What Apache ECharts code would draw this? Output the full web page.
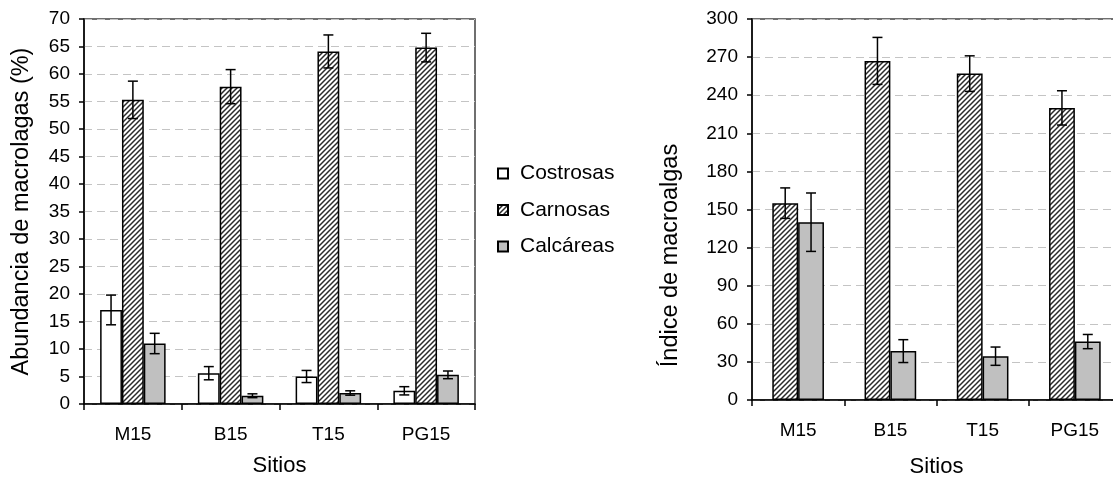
<!DOCTYPE html>
<html>
<head>
<meta charset="utf-8">
<script src="https://cdn.jsdelivr.net/npm/echarts@6/dist/echarts.min.js"></script>
<style>
  html, body { margin: 0; padding: 0; background: #fff; }
  #main { width: 1113px; height: 478px; }
</style>
</head>
<body>
<div id="main"></div>
<script>
// sites
const sitios = ['M15', 'B15', 'T15', 'PG15'];

// left chart: abundancia (%)
const costrosasPct = [17.1, 5.6, 5.0, 2.4];
const costrosasPctErr = [2.7, 1.2, 1.1, 0.75];
const carnosasPct = [55.3, 57.7, 64.1, 64.8];
const carnosasPctErr = [3.4, 3.1, 3.0, 2.6];
const calcareasPct = [11.0, 1.5, 2.0, 5.3];
const calcareasPctErr = [1.85, 0.35, 0.4, 0.7];

// right chart: índice de macroalgas
const carnosasIdx = [155, 267, 257, 230];
const carnosasIdxErr = [12, 18.5, 14, 13.5];
const calcareasIdx = [140, 38.5, 34.5, 46];
const calcareasIdxErr = [23, 9, 7.2, 5.6];

const FONT = 'Liberation Sans, Arial, sans-serif';

function makeHatch() {
    const c = document.createElement('canvas');
    c.width = 5;
    c.height = 5;
    const ctx = c.getContext('2d');
    ctx.fillStyle = '#fff';
    ctx.fillRect(0, 0, 5, 5);
    ctx.strokeStyle = '#2a2a2a';
    ctx.lineWidth = 1.5;
    ctx.beginPath();
    ctx.moveTo(0, 5); ctx.lineTo(5, 0);
    ctx.moveTo(-1, 1); ctx.lineTo(1, -1);
    ctx.moveTo(4, 6); ctx.lineTo(6, 4);
    ctx.stroke();
    return c;
}
const hatch = { image: makeHatch(), repeat: 'repeat' };

const styles = {
    Costrosas: { color: '#fff', borderColor: '#000', borderWidth: 1.5 },
    Carnosas: { color: hatch, borderColor: '#000', borderWidth: 1.5 },
    'Calcáreas': { color: '#c0c0c0', borderColor: '#000', borderWidth: 1.5 }
};

function barSeries(name, values, axis, gap) {
    return {
        name: name,
        type: 'bar',
        xAxisIndex: axis,
        yAxisIndex: axis,
        data: values,
        barGap: 0,
        barCategoryGap: gap,
        itemStyle: styles[name],
        emphasis: { disabled: true }
    };
}

// error bars drawn on top of the k-th bar of n in each group
function errSeries(values, errs, axis, k, n, gapFrac) {
    return {
        type: 'custom',
        xAxisIndex: axis,
        yAxisIndex: axis,
        silent: true,
        z: 5,
        data: values.map((v, i) => [i, v, errs[i]]),
        renderItem: function (params, api) {
            const i = api.value(0);
            const v = api.value(1);
            const e = api.value(2);
            const band = api.size([1, 0])[0];
            const barW = band * (1 - gapFrac) / n;
            const x = api.coord([i, v])[0] + (k - (n - 1) / 2) * barW;
            const yt = api.coord([i, v + e])[1];
            const yb = api.coord([i, v - e])[1];
            const cap = 5;
            const st = { stroke: '#000', lineWidth: 1.5 };
            return {
                type: 'group',
                children: [
                    { type: 'line', shape: { x1: x, y1: yt, x2: x, y2: yb }, style: st },
                    { type: 'line', shape: { x1: x - cap, y1: yt, x2: x + cap, y2: yt }, style: st },
                    { type: 'line', shape: { x1: x - cap, y1: yb, x2: x + cap, y2: yb }, style: st }
                ]
            };
        }
    };
}

function xAxis(grid, gap) {
    return {
        type: 'category',
        gridIndex: grid,
        data: sitios,
        name: 'Sitios',
        nameLocation: 'middle',
        nameGap: gap,
        nameTextStyle: { fontFamily: FONT, fontSize: 22, color: '#000' },
        axisLine: { lineStyle: { color: '#000', width: 1.5 } },
        axisTick: { show: true, length: 6, lineStyle: { color: '#000', width: 1.5 } },
        axisLabel: { fontFamily: FONT, fontSize: 19, color: '#000', margin: 21 },
        splitLine: { show: false }
    };
}

function yAxis(grid, max, interval, name, gap, pad) {
    return {
        type: 'value',
        gridIndex: grid,
        min: 0,
        max: max,
        interval: interval,
        name: name,
        nameLocation: 'middle',
        nameGap: gap,
        nameTextStyle: { fontFamily: FONT, fontSize: 23.5, color: '#000', padding: pad },
        axisLine: { show: true, lineStyle: { color: '#000', width: 1.5 } },
        axisTick: { show: true, length: 5, lineStyle: { color: '#000', width: 1.5 } },
        axisLabel: { fontFamily: FONT, fontSize: 19, color: '#000', margin: 14 },
        splitLine: { show: true, lineStyle: { color: '#c4c4c4', width: 1, type: [8, 5] } }
    };
}

const chart = echarts.init(document.getElementById('main'));
chart.setOption({
    backgroundColor: '#fff',
    animation: false,
    grid: [
        { left: 84, top: 19, width: 391, height: 385, show: true, borderColor: '#404040', borderWidth: 1.5, containLabel: false, outerBoundsMode: 'none' },
        { left: 752, top: 19, width: 369, height: 381, show: true, borderColor: '#404040', borderWidth: 1.5, containLabel: false, outerBoundsMode: 'none' }
    ],
    legend: {
        data: ['Costrosas', 'Carnosas', 'Calcáreas'],
        orient: 'vertical',
        left: 497,
        top: 163,
        padding: 0,
        icon: 'rect',
        itemWidth: 10,
        itemHeight: 10,
        itemGap: 15.5,
        selectedMode: false,
        textStyle: { fontFamily: FONT, fontSize: 21, color: '#000', padding: [0, 0, 0, 7] }
    },
    xAxis: [xAxis(0, 51), xAxis(1, 56)],
    yAxis: [
        yAxis(0, 70, 5, 'Abundancia de macrolagas (%)', 50, 0),
        yAxis(1, 300, 30, 'Índice de macroalgas', 69, [0, 92, 0, 0])
    ],
    series: [
        barSeries('Costrosas', costrosasPct, 0, '33%'),
        barSeries('Carnosas', carnosasPct, 0, '33%'),
        barSeries('Calcáreas', calcareasPct, 0, '33%'),
        errSeries(costrosasPct, costrosasPctErr, 0, 0, 3, 0.33),
        errSeries(carnosasPct, carnosasPctErr, 0, 1, 3, 0.33),
        errSeries(calcareasPct, calcareasPctErr, 0, 2, 3, 0.33),
        barSeries('Carnosas', carnosasIdx, 1, '44%'),
        barSeries('Calcáreas', calcareasIdx, 1, '44%'),
        errSeries(carnosasIdx, carnosasIdxErr, 1, 0, 2, 0.44),
        errSeries(calcareasIdx, calcareasIdxErr, 1, 1, 2, 0.44)
    ]
});
</script>
</body>
</html>
